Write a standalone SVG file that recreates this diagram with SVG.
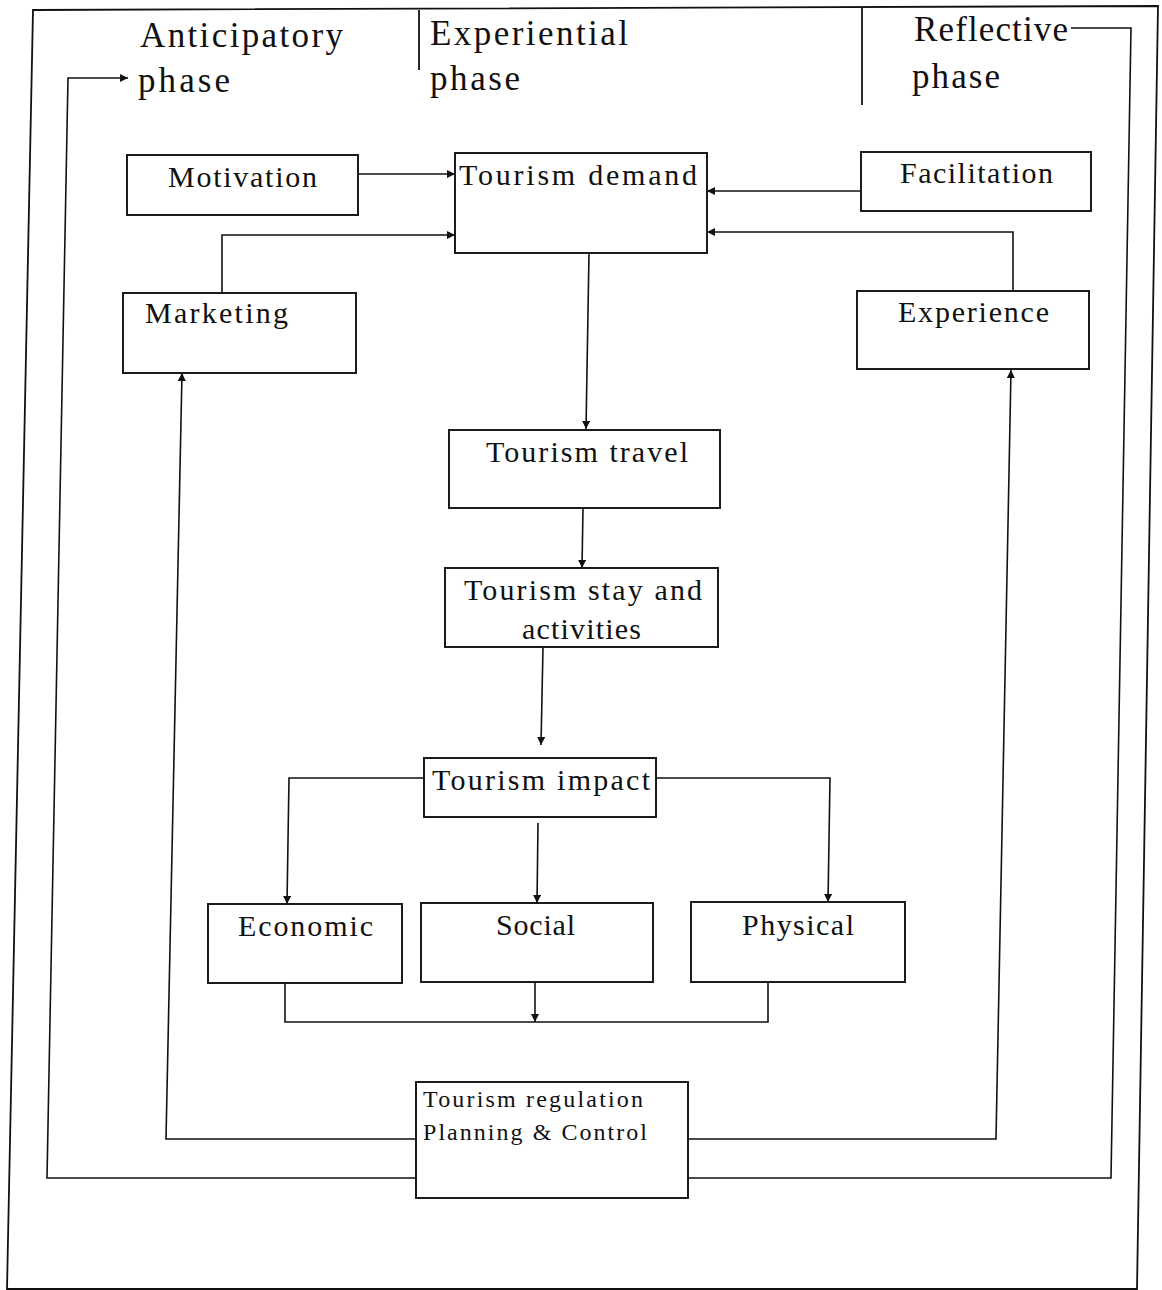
<svg xmlns="http://www.w3.org/2000/svg" width="1162" height="1290" viewBox="0 0 1162 1290">
  <style>
    .frame { fill: none; stroke: #111; stroke-width: 1.8; }
    .box { fill: #fff; stroke: #111; stroke-width: 1.9; }
    .wire { fill: none; stroke: #111; stroke-width: 1.6; }
    .hdr { font-family: "Liberation Serif", "Times New Roman", serif; font-size: 35px; fill: #111; }
    .lbl { font-family: "Liberation Serif", "Times New Roman", serif; font-size: 30px; fill: #111; }
    .sm { font-family: "Liberation Serif", "Times New Roman", serif; font-size: 24px; fill: #111; }
  </style>
  <defs>
    <marker id="arrow" markerUnits="userSpaceOnUse" markerWidth="9" markerHeight="8" refX="8" refY="4" orient="auto">
      <path d="M0,0 L8,4 L0,8 Z" fill="#111"/>
    </marker>
  </defs>

  <rect x="0" y="0" width="1162" height="1290" fill="#fff"/>

  <!-- outer frame and phase dividers -->
  <g id="frame">
    <path class="frame" d="M33,10 L1158,6 L1137,1289 L7,1289 Z"/>
    <path class="frame" d="M419,10 L419,70"/>
    <path class="frame" d="M862,8 L862,105"/>
  </g>

  <!-- phase headings -->
  <g id="phase-anticipatory">
    <text class="hdr" x="140" y="47" textLength="203" lengthAdjust="spacing">Anticipatory</text>
    <text class="hdr" x="138" y="92" textLength="92" lengthAdjust="spacing">phase</text>
  </g>
  <g id="phase-experiential">
    <text class="hdr" x="430" y="45" textLength="198" lengthAdjust="spacing">Experiential</text>
    <text class="hdr" x="430" y="90" textLength="90" lengthAdjust="spacing">phase</text>
  </g>
  <g id="phase-reflective">
    <text class="hdr" x="914" y="41" textLength="154" lengthAdjust="spacing">Reflective</text>
    <text class="hdr" x="912" y="88" textLength="88" lengthAdjust="spacing">phase</text>
  </g>

  <!-- connectors -->
  <g id="connectors">
    <!-- into Tourism demand -->
    <path class="wire" d="M358,174 L455,174" marker-end="url(#arrow)"/>
    <path class="wire" d="M861,191 L707,191" marker-end="url(#arrow)"/>
    <path class="wire" d="M222,293 L222,235 L455,235" marker-end="url(#arrow)"/>
    <path class="wire" d="M1013,291 L1013,232 L707,232" marker-end="url(#arrow)"/>
    <!-- main chain -->
    <path class="wire" d="M589,253 L586,429" marker-end="url(#arrow)"/>
    <path class="wire" d="M583,508 L582,568" marker-end="url(#arrow)"/>
    <path class="wire" d="M543,647 L541,745" marker-end="url(#arrow)"/>
    <!-- impact branches -->
    <path class="wire" d="M424,778 L289,778 L287,904" marker-end="url(#arrow)"/>
    <path class="wire" d="M538,823 L537,903" marker-end="url(#arrow)"/>
    <path class="wire" d="M656,778 L830,778 L828,902" marker-end="url(#arrow)"/>
    <!-- merge below impacts -->
    <path class="wire" d="M285,983 L285,1022 L768,1022 L768,982"/>
    <path class="wire" d="M535,982 L535,1022" marker-end="url(#arrow)"/>
    <!-- feedback from regulation -->
    <path class="wire" d="M416,1139 L166,1139 L182,373" marker-end="url(#arrow)"/>
    <path class="wire" d="M688,1139 L996,1139 L1011,370" marker-end="url(#arrow)"/>
    <path class="wire" d="M416,1178 L47,1178 L68,78 L128,78" marker-end="url(#arrow)"/>
    <path class="wire" d="M688,1178 L1111,1178 L1131,28 L1071,28"/>
  </g>

  <!-- nodes -->
  <g id="motivation">
    <rect class="box" x="127" y="155" width="231" height="60"/>
    <text class="lbl" x="168" y="187" textLength="149" lengthAdjust="spacing">Motivation</text>
  </g>
  <g id="tourism-demand">
    <rect class="box" x="455" y="153" width="252" height="100"/>
    <text class="lbl" x="459" y="185" textLength="238" lengthAdjust="spacing">Tourism demand</text>
  </g>
  <g id="facilitation">
    <rect class="box" x="861" y="152" width="230" height="59"/>
    <text class="lbl" x="900" y="183" textLength="153" lengthAdjust="spacing">Facilitation</text>
  </g>
  <g id="marketing">
    <rect class="box" x="123" y="293" width="233" height="80"/>
    <text class="lbl" x="145" y="323" textLength="143" lengthAdjust="spacing">Marketing</text>
  </g>
  <g id="experience">
    <rect class="box" x="857" y="291" width="232" height="78"/>
    <text class="lbl" x="898" y="322" textLength="151" lengthAdjust="spacing">Experience</text>
  </g>
  <g id="tourism-travel">
    <rect class="box" x="449" y="430" width="271" height="78"/>
    <text class="lbl" x="486" y="462" textLength="202" lengthAdjust="spacing">Tourism travel</text>
  </g>
  <g id="tourism-stay">
    <rect class="box" x="445" y="568" width="273" height="79"/>
    <text class="lbl" x="464" y="600" textLength="238" lengthAdjust="spacing">Tourism stay and</text>
    <text class="lbl" x="522" y="639" textLength="119" lengthAdjust="spacing">activities</text>
  </g>
  <g id="tourism-impact">
    <rect class="box" x="424" y="758" width="232" height="59"/>
    <text class="lbl" x="432" y="790" textLength="218" lengthAdjust="spacing">Tourism impact</text>
  </g>
  <g id="economic">
    <rect class="box" x="208" y="904" width="194" height="79"/>
    <text class="lbl" x="238" y="936" textLength="135" lengthAdjust="spacing">Economic</text>
  </g>
  <g id="social">
    <rect class="box" x="421" y="903" width="232" height="79"/>
    <text class="lbl" x="496" y="935" textLength="79" lengthAdjust="spacing">Social</text>
  </g>
  <g id="physical">
    <rect class="box" x="691" y="902" width="214" height="80"/>
    <text class="lbl" x="742" y="935" textLength="112" lengthAdjust="spacing">Physical</text>
  </g>
  <g id="tourism-regulation">
    <rect class="box" x="416" y="1082" width="272" height="116"/>
    <text class="sm" x="423" y="1107" textLength="220" lengthAdjust="spacing">Tourism regulation</text>
    <text class="sm" x="423" y="1140" textLength="224" lengthAdjust="spacing">Planning &amp; Control</text>
  </g>
</svg>
